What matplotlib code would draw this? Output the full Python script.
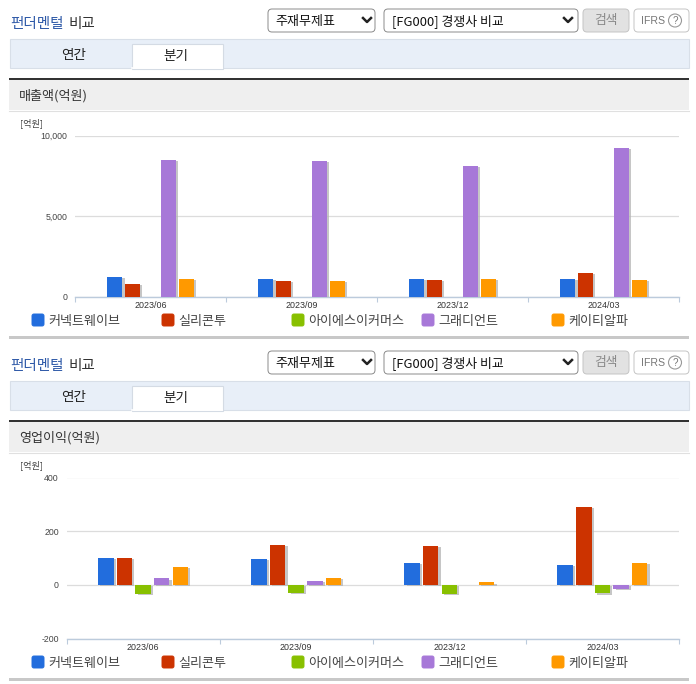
import matplotlib
matplotlib.use('Agg')
import matplotlib.pyplot as plt
import matplotlib.patheffects as pe
from matplotlib.patches import FancyBboxPatch, Rectangle, Circle

plt.rcParams['font.family'] = ['Noto Sans CJK KR', 'DejaVu Sans']

W, H = 696, 684

quarters = ['2023/06', '2023/09', '2023/12', '2024/03']
companies = ['커넥트웨이브', '실리콘투', '아이에스이커머스', '그래디언트', '케이티알파']
colors = ['#226ddd', '#cc3300', '#88c000', '#a778d8', '#ff9900']

# 매출액
sales_connect = [1230, 1100, 1100, 1100]
sales_silicon = [780, 960, 1020, 1480]
sales_ise = [0, 0, 0, 0]
sales_gradient = [8480, 8400, 8100, 9200]
sales_kt = [1100, 970, 1100, 1020]
sales_ticks = [0, 5000, 10000]
sales_labels = ['0', '5,000', '10,000']

# 영업이익
profit_connect = [101, 98, 82, 74]
profit_silicon = [101, 150, 145, 290]
profit_ise = [-35, -30, -35, -32]
profit_gradient = [24, 13, 0, -15]
profit_kt = [68, 26, 9, 82]
profit_ticks = [-200, 0, 200, 400]
profit_labels = ['-200', '0', '200', '400']

fig = plt.figure(figsize=(W / 100, H / 100), dpi=100, facecolor='white')

# page furniture, in pixel coordinates
bg = fig.add_axes([0, 0, 1, 1])
bg.set_xlim(0, W)
bg.set_ylim(H, 0)
bg.axis('off')


def rounded(x0, y0, x1, y1, face, edge, r=4):
    bg.add_patch(FancyBboxPatch((x0 + r, y0 + r), x1 - x0 - 2 * r, y1 - y0 - 2 * r,
                                boxstyle='round,pad=%d,rounding_size=%d' % (r, r),
                                fc=face, ec=edge, lw=0.7))


def chevron(x, y):
    bg.plot([x - 4, x, x + 4], [y - 2, y + 2, y - 2], color='#222222', lw=1.8)


def draw_panel(dy, section):
    bg.text(10, 24 + dy, '펀더멘털', color='#2f5aa8', fontsize=10.5, fontweight='medium', va='center')
    bg.text(69, 24 + dy, '비교', color='#333333', fontsize=10.5, fontweight='medium', va='center')

    rounded(268, 9 + dy, 375, 32 + dy, 'white', '#8a8a8a')
    bg.text(275, 21 + dy, '주재무제표', color='#111111', fontsize=9.4, va='center')
    chevron(367, 20 + dy)
    rounded(384, 9 + dy, 578, 32 + dy, 'white', '#8a8a8a')
    bg.text(392, 21 + dy, '[FG000] 경쟁사 비교', color='#111111', fontsize=9.3, va='center')
    chevron(568, 20 + dy)
    rounded(583, 9 + dy, 629, 32 + dy, '#e2e2e2', '#c4c4c4')
    bg.text(606, 20.5 + dy, '검색', color='#888888', fontsize=9.2, ha='center', va='center')
    rounded(634, 9 + dy, 689, 32 + dy, 'white', '#c4c4c4')
    bg.text(641, 20.5 + dy, 'IFRS', color='#777777', fontsize=7.6, va='center', family='Liberation Sans')
    bg.add_patch(Circle((675, 20.5 + dy), 6.5, fc='white', ec='#999999', lw=0.8))
    bg.text(675, 20.5 + dy, '?', color='#777777', fontsize=7, ha='center', va='center', family='Liberation Sans')

    bg.add_patch(Rectangle((9.5, 38.5 + dy), 679, 29, fc='#e8eff8', ec='#d8dfe8', lw=0.8))
    bg.add_patch(Rectangle((131.5, 43.5 + dy), 91, 25, fc='white', ec='#d4dbe4', lw=0.8, zorder=3))
    bg.plot([132, 222], [68 + dy, 68 + dy], color='white', lw=1.2, zorder=4)
    bg.text(74, 55 + dy, '연간', color='#222222', fontsize=9.8, ha='center', va='center')
    bg.text(176, 56 + dy, '분기', color='#222222', fontsize=9.8, ha='center', va='center')

    bg.add_patch(Rectangle((9, 80 + dy), 680, 30, fc='#efefef', ec='none'))
    bg.add_patch(Rectangle((9, 78 + dy), 680, 2, fc='#333333', ec='none'))
    bg.plot([9, 689], [110.5 + dy, 110.5 + dy], color='#e0e0e0', lw=0.8)
    bg.text(19, 96 + dy, section, color='#333333', fontsize=9.4, va='center')
    bg.text(20, 123 + dy, '[억원]', color='#444444', fontsize=6.6, va='center')

    # legend
    for i, name in enumerate(companies):
        x = 32 + 130 * i
        rounded(x, 314 + dy, x + 12, 326 + dy, colors[i], colors[i], r=2)
        bg.text(x + 16.5, 321 + dy, name, color='#444444', fontsize=9.4, va='center')

    bg.add_patch(Rectangle((9, 336 + dy), 680, 2.5, fc='#c8c8c8', ec='none'))


def draw_chart(box, series, ylim, ticks, labels, bar_w, step):
    x0, y0, x1, y1 = box
    ax = fig.add_axes([x0 / W, 1 - y1 / H, (x1 - x0) / W, (y1 - y0) / H])
    ax.patch.set_alpha(0)
    ax.set_xlim(0, 4)
    ax.set_ylim(*ylim)
    for i, vals in enumerate(series):
        xs = [q + 0.5 + (i - 2) * step for q in range(len(quarters))]
        bars = ax.bar(xs, vals, width=bar_w, color=colors[i], linewidth=0, zorder=3)
        for b in bars:
            b.set_path_effects([pe.SimplePatchShadow(offset=(1.6, -0.8), shadow_rgbFace='#b4b4b4', alpha=0.75),
                                pe.Normal()])
    for s in ['top', 'left', 'right']:
        ax.spines[s].set_visible(False)
    ax.spines['bottom'].set_color('#bccbdc')
    ax.spines['bottom'].set_linewidth(1)
    ax.grid(axis='y', color='#dcdcdc', lw=0.9, zorder=0)
    ax.set_axisbelow(True)
    ax.set_yticks(ticks, labels, family='Liberation Sans', fontsize=6.3, color='#444444')
    ax.tick_params(axis='y', length=0, pad=5.5)
    ax.set_xticks(range(5), [''] * 5)
    ax.tick_params(axis='x', which='major', length=3.5, width=0.8, color='#bccbdc')
    ax.set_xticks([q + 0.5 for q in range(4)], quarters, minor=True,
                  family='Liberation Sans', fontsize=6.4, color='#333333')
    ax.tick_params(axis='x', which='minor', length=0, pad=3.5)
    return ax


draw_panel(0, '매출액(억원)')
draw_panel(342, '영업이익(억원)')

draw_chart((75, 135.5, 679, 296.5),
           [sales_connect, sales_silicon, sales_ise, sales_gradient, sales_kt],
           (0, 10000), sales_ticks, sales_labels, 0.103, 0.1192)
draw_chart((66.5, 477.5, 679, 638.5),
           [profit_connect, profit_silicon, profit_ise, profit_gradient, profit_kt],
           (-200, 400), profit_ticks, profit_labels, 0.101, 0.1216)

fig.savefig('out.png', dpi=100)
